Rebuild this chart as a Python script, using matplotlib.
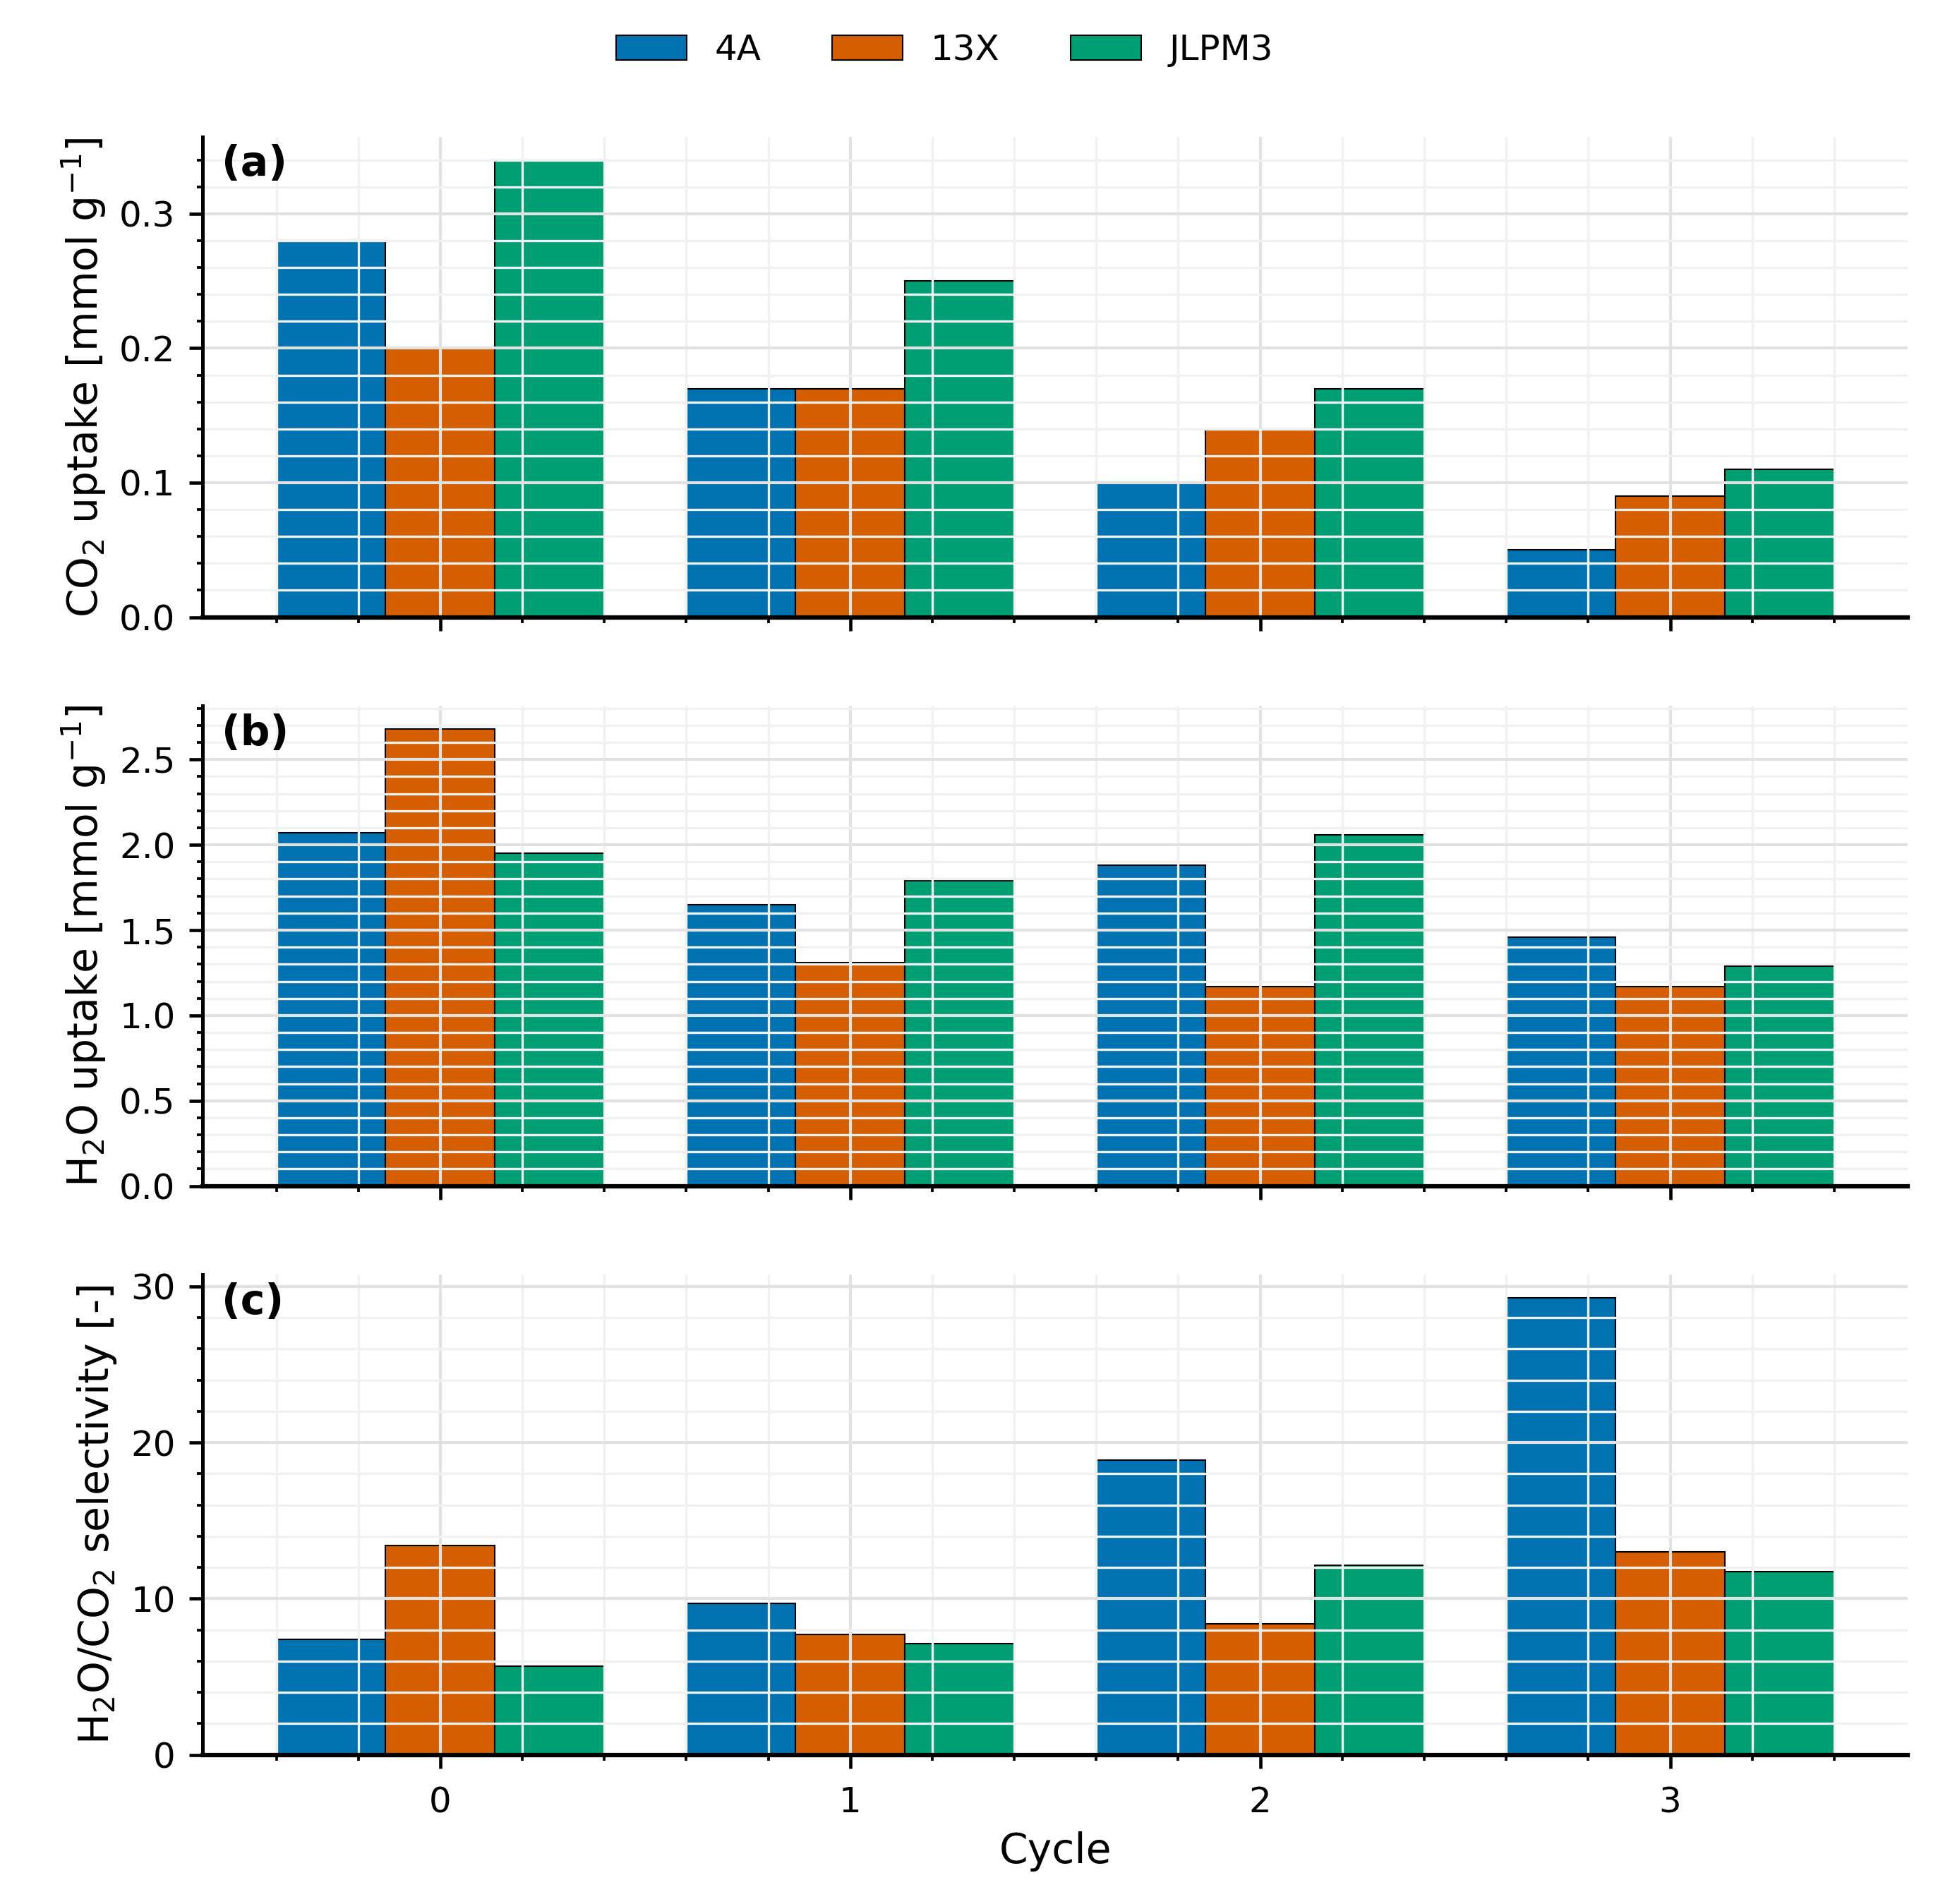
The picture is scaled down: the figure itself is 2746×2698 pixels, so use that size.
import numpy as np
from matplotlib import pyplot as plt
from matplotlib.ticker import AutoMinorLocator, MultipleLocator

cycles = [0, 1, 2, 3]
materials = ['4A', '13X', 'JLPM3']
colors = ['#0072B2', '#D55E00', '#009E73']

# CO2 uptake [mmol/g], per material, per cycle
co2 = {
    '4A':    [0.28, 0.17, 0.10, 0.05],
    '13X':   [0.20, 0.17, 0.14, 0.09],
    'JLPM3': [0.34, 0.25, 0.17, 0.11],
}
# H2O uptake [mmol/g]
h2o = {
    '4A':    [2.07, 1.65, 1.88, 1.46],
    '13X':   [2.68, 1.31, 1.17, 1.17],
    'JLPM3': [1.95, 1.79, 2.06, 1.29],
}
# H2O/CO2 selectivity [-]
sel = {
    '4A':    [7.42, 9.72, 18.86, 29.27],
    '13X':   [13.42, 7.71, 8.37, 13.0],
    'JLPM3': [5.68, 7.11, 12.15, 11.73],
}

panels = [
    (co2, r'CO$_2$ uptake [mmol g$^{-1}$]', '(a)'),
    (h2o, r'H$_2$O uptake [mmol g$^{-1}$]', '(b)'),
    (sel, r'H$_2$O/CO$_2$ selectivity [-]', '(c)'),
]

plt.rcParams['font.family'] = ['DejaVu Sans']
plt.rcParams['font.size'] = 12

fig, axes = plt.subplots(3, 1, figsize=(2746/300, 2698/300), dpi=300, sharex=True)
fig.subplots_adjust(left=0.1045, right=0.9845, top=0.928, bottom=0.0783, hspace=0.185)

w = 0.8 / 3
x = np.array(cycles)
for ax, (data, ylab, tag) in zip(axes, panels):
    for i, (m, c) in enumerate(zip(materials, colors)):
        ax.bar(x + (i - 1) * w, data[m], width=w, color=c, edgecolor='black',
               linewidth=0.5, label=m, zorder=1)
    ax.set_ylabel(ylab, fontsize=14, labelpad=4)
    ax.text(0.011, 0.985, tag, transform=ax.transAxes, fontsize=14,
            fontweight='bold', va='top', ha='left', zorder=5)
    ax.set_xticks(cycles)
    ax.set_xlim(-0.58, 3.58)
    ax.xaxis.set_minor_locator(MultipleLocator(0.2))
    ax.yaxis.set_minor_locator(AutoMinorLocator())
    ax.set_axisbelow(False)
    ax.grid(which='major', color='#e2e2e2', linewidth=1.0, zorder=2)
    ax.grid(which='minor', color='#f1f1f1', linewidth=0.8, zorder=2)
    for s in ['top', 'right']:
        ax.spines[s].set_visible(False)
    ax.spines['left'].set_linewidth(1.2)
    ax.spines['bottom'].set_linewidth(1.5)
    for s in ['left', 'bottom']:
        ax.spines[s].set_zorder(4)
        ax.spines[s].set_color('black')
    ax.tick_params(which='both', direction='out', labelsize=12)
    ax.tick_params(which='major', length=4.5, width=1.1)
    ax.tick_params(which='minor', length=2, width=0.9)
    ax.tick_params(axis='x', which='major', pad=6)
    ax.tick_params(axis='y', which='major', pad=4.7)

axes[-1].set_xlabel('Cycle', fontsize=14)

handles, labels = axes[0].get_legend_handles_labels()
fig.legend(handles, labels, loc='center', bbox_to_anchor=(0.4875, 0.9735), ncol=3,
           frameon=False, fontsize=12)

fig.savefig('out.png', dpi=300)
